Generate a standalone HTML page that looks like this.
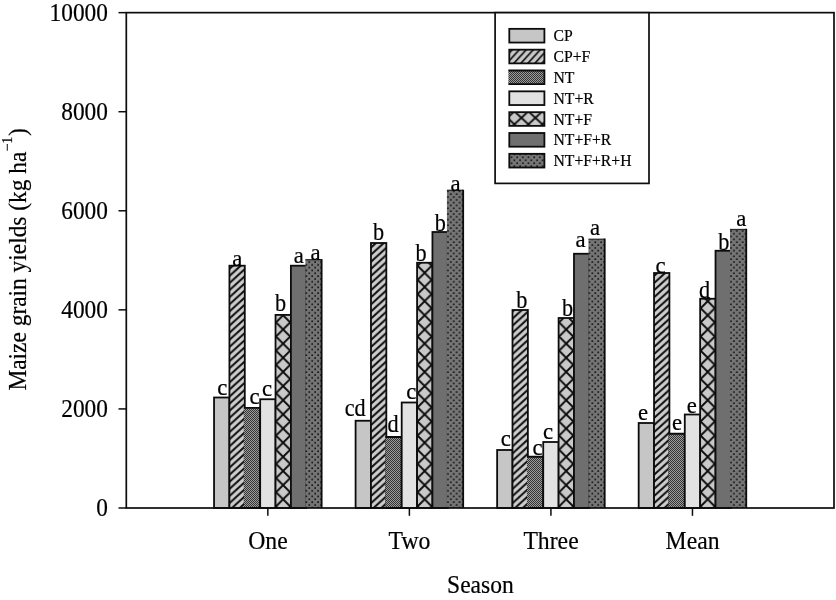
<!DOCTYPE html>
<html lang="en">
<head>
<meta charset="utf-8">
<title>Maize grain yields by season</title>
<style>
html,body{margin:0;padding:0;background:#fff;}
body{width:836px;height:600px;overflow:hidden;}
svg{display:block;}
text{font-family:"Liberation Serif","Times New Roman",serif;fill:#000;stroke:#000;stroke-width:0.2px;}
.tick{font-size:25.2px;}
.cat{font-size:24.4px;}
.lab{font-size:24.4px;}
.leg{font-size:16.9px;stroke-width:0.2px;}
.ttl{font-size:24px;}
</style>
</head>
<body>
<svg width="836" height="600" viewBox="0 0 836 600">
<defs>
<pattern id="hatch0" patternUnits="userSpaceOnUse" width="7.8" height="7.1" patternTransform="translate(3.22 6.20)"><rect width="7.8" height="7.1" fill="#cecece"/><path d="M-7.8,7.1 L7.8,-7.1 M0,7.1 L15.6,-7.1 M-7.8,14.2 L7.8,0 M0,14.2 L15.6,0" stroke="#0c0c0c" stroke-width="2.0" fill="none"/></pattern>
<pattern id="dots0" patternUnits="userSpaceOnUse" width="5.87" height="5.65" patternTransform="translate(0.03 3.85)"><rect width="5.87" height="5.65" fill="#757575"/><rect x="0.3" y="0.3" width="1.6" height="1.6" fill="#0c0c0c"/><rect x="3.23" y="3.12" width="1.6" height="1.6" fill="#0c0c0c"/></pattern>
<pattern id="hatch1" patternUnits="userSpaceOnUse" width="7.8" height="7.1" patternTransform="translate(4.36 6.20)"><rect width="7.8" height="7.1" fill="#cecece"/><path d="M-7.8,7.1 L7.8,-7.1 M0,7.1 L15.6,-7.1 M-7.8,14.2 L7.8,0 M0,14.2 L15.6,0" stroke="#0c0c0c" stroke-width="2.0" fill="none"/></pattern>
<pattern id="dots1" patternUnits="userSpaceOnUse" width="5.87" height="5.65" patternTransform="translate(0.69 3.85)"><rect width="5.87" height="5.65" fill="#757575"/><rect x="0.3" y="0.3" width="1.6" height="1.6" fill="#0c0c0c"/><rect x="3.23" y="3.12" width="1.6" height="1.6" fill="#0c0c0c"/></pattern>
<pattern id="hatch2" patternUnits="userSpaceOnUse" width="7.8" height="7.1" patternTransform="translate(5.50 6.20)"><rect width="7.8" height="7.1" fill="#cecece"/><path d="M-7.8,7.1 L7.8,-7.1 M0,7.1 L15.6,-7.1 M-7.8,14.2 L7.8,0 M0,14.2 L15.6,0" stroke="#0c0c0c" stroke-width="2.0" fill="none"/></pattern>
<pattern id="dots2" patternUnits="userSpaceOnUse" width="5.87" height="5.65" patternTransform="translate(1.35 3.85)"><rect width="5.87" height="5.65" fill="#757575"/><rect x="0.3" y="0.3" width="1.6" height="1.6" fill="#0c0c0c"/><rect x="3.23" y="3.12" width="1.6" height="1.6" fill="#0c0c0c"/></pattern>
<pattern id="hatch3" patternUnits="userSpaceOnUse" width="7.8" height="7.1" patternTransform="translate(6.64 6.20)"><rect width="7.8" height="7.1" fill="#cecece"/><path d="M-7.8,7.1 L7.8,-7.1 M0,7.1 L15.6,-7.1 M-7.8,14.2 L7.8,0 M0,14.2 L15.6,0" stroke="#0c0c0c" stroke-width="2.0" fill="none"/></pattern>
<pattern id="dots3" patternUnits="userSpaceOnUse" width="5.87" height="5.65" patternTransform="translate(2.01 3.85)"><rect width="5.87" height="5.65" fill="#757575"/><rect x="0.3" y="0.3" width="1.6" height="1.6" fill="#0c0c0c"/><rect x="3.23" y="3.12" width="1.6" height="1.6" fill="#0c0c0c"/></pattern>
<pattern id="hatchL" patternUnits="userSpaceOnUse" width="7" height="7.7" patternTransform="translate(3.2 63)">
<rect width="7" height="7.7" fill="#c9c9c9"/>
<path d="M-7,7.7 L7,-7.7 M0,7.7 L14,-7.7 M-7,15.4 L7,0 M0,15.4 L14,0" stroke="#0c0c0c" stroke-width="1.7" fill="none"/>
</pattern>
<pattern id="cross" patternUnits="userSpaceOnUse" width="14.154" height="14.154" patternTransform="translate(0.02 3.91)">
<rect width="14.154" height="14.154" fill="#c9c9c9"/>
<path d="M0,0 L14.154,14.154 M14.154,0 L0,14.154" stroke="#0c0c0c" stroke-width="1.9" fill="none"/>
</pattern>
<pattern id="crossL" patternUnits="userSpaceOnUse" width="14" height="13" patternTransform="translate(3.40 0.80)">
<rect width="14" height="13" fill="#c9c9c9"/>
<path d="M0,0 L14,13 M14,0 L0,13" stroke="#0c0c0c" stroke-width="1.9" fill="none"/>
</pattern>
<pattern id="chk" patternUnits="userSpaceOnUse" width="2" height="2">
<rect width="2" height="2" fill="#9c9c9c"/>
<rect x="0" y="0" width="1" height="1" fill="#343434"/>
<rect x="1" y="1" width="1" height="1" fill="#343434"/>
</pattern>
<pattern id="dotsL" patternUnits="userSpaceOnUse" width="5.65" height="5.92" patternTransform="translate(2.0 2.3)">
<rect width="5.65" height="5.92" fill="#757575"/>
<rect x="0.3" y="0.3" width="1.6" height="1.6" fill="#0c0c0c"/>
<rect x="3.12" y="3.26" width="1.6" height="1.6" fill="#0c0c0c"/>
</pattern>
</defs>
<rect width="836" height="600" fill="#fff"/>

<g>
<rect x="214.05" y="397.50" width="15.37" height="110.50" fill="#c6c6c6" stroke="#0c0c0c" stroke-width="1.8"/>
<rect x="229.42" y="265.70" width="15.37" height="242.30" fill="url(#hatch0)" stroke="#0c0c0c" stroke-width="1.8"/>
<rect x="243.89" y="407.80" width="16.27" height="100.20" fill="url(#chk)"/>
<path d="M243.89,407.80 H260.16 V508.00 H243.89" fill="none" stroke="#0c0c0c" stroke-width="1.8"/>
<rect x="260.16" y="399.25" width="15.37" height="108.75" fill="#e2e2e2" stroke="#0c0c0c" stroke-width="1.8"/>
<rect x="275.53" y="314.90" width="15.37" height="193.10" fill="url(#cross)" stroke="#0c0c0c" stroke-width="1.8"/>
<rect x="290.90" y="265.70" width="15.37" height="242.30" fill="#6f6f6f" stroke="#0c0c0c" stroke-width="1.8"/>
<rect x="305.37" y="259.70" width="16.27" height="248.30" fill="url(#dots0)"/>
<path d="M305.37,259.70 H321.64" fill="none" stroke="#2c2c2c" stroke-width="1.3"/>
<path d="M321.64,259.05 V508.00" fill="none" stroke="#0c0c0c" stroke-width="1.8"/>
</g>
<g>
<rect x="355.59" y="420.75" width="15.37" height="87.25" fill="#c6c6c6" stroke="#0c0c0c" stroke-width="1.8"/>
<rect x="370.96" y="243.00" width="15.37" height="265.00" fill="url(#hatch1)" stroke="#0c0c0c" stroke-width="1.8"/>
<rect x="385.43" y="437.00" width="16.27" height="71.00" fill="url(#chk)"/>
<path d="M385.43,437.00 H401.70 V508.00 H385.43" fill="none" stroke="#0c0c0c" stroke-width="1.8"/>
<rect x="401.70" y="402.50" width="15.37" height="105.50" fill="#e2e2e2" stroke="#0c0c0c" stroke-width="1.8"/>
<rect x="417.07" y="262.75" width="15.37" height="245.25" fill="url(#cross)" stroke="#0c0c0c" stroke-width="1.8"/>
<rect x="432.44" y="232.00" width="15.37" height="276.00" fill="#6f6f6f" stroke="#0c0c0c" stroke-width="1.8"/>
<rect x="446.91" y="190.30" width="16.27" height="317.70" fill="url(#dots1)"/>
<path d="M446.91,190.30 H463.18" fill="none" stroke="#2c2c2c" stroke-width="1.3"/>
<path d="M463.18,189.65 V508.00" fill="none" stroke="#0c0c0c" stroke-width="1.8"/>
</g>
<g>
<rect x="497.13" y="450.00" width="15.37" height="58.00" fill="#c6c6c6" stroke="#0c0c0c" stroke-width="1.8"/>
<rect x="512.50" y="310.00" width="15.37" height="198.00" fill="url(#hatch2)" stroke="#0c0c0c" stroke-width="1.8"/>
<rect x="526.97" y="456.75" width="16.27" height="51.25" fill="url(#chk)"/>
<path d="M526.97,456.75 H543.24 V508.00 H526.97" fill="none" stroke="#0c0c0c" stroke-width="1.8"/>
<rect x="543.24" y="442.00" width="15.37" height="66.00" fill="#e2e2e2" stroke="#0c0c0c" stroke-width="1.8"/>
<rect x="558.61" y="318.00" width="15.37" height="190.00" fill="url(#cross)" stroke="#0c0c0c" stroke-width="1.8"/>
<rect x="573.98" y="253.75" width="15.37" height="254.25" fill="#6f6f6f" stroke="#0c0c0c" stroke-width="1.8"/>
<rect x="588.45" y="239.25" width="16.27" height="268.75" fill="url(#dots2)"/>
<path d="M588.45,239.25 H604.72" fill="none" stroke="#2c2c2c" stroke-width="1.3"/>
<path d="M604.72,238.60 V508.00" fill="none" stroke="#0c0c0c" stroke-width="1.8"/>
</g>
<g>
<rect x="638.67" y="423.00" width="15.37" height="85.00" fill="#c6c6c6" stroke="#0c0c0c" stroke-width="1.8"/>
<rect x="654.04" y="273.00" width="15.37" height="235.00" fill="url(#hatch3)" stroke="#0c0c0c" stroke-width="1.8"/>
<rect x="668.51" y="433.75" width="16.27" height="74.25" fill="url(#chk)"/>
<path d="M668.51,433.75 H684.78 V508.00 H668.51" fill="none" stroke="#0c0c0c" stroke-width="1.8"/>
<rect x="684.78" y="414.50" width="15.37" height="93.50" fill="#e2e2e2" stroke="#0c0c0c" stroke-width="1.8"/>
<rect x="700.15" y="298.75" width="15.37" height="209.25" fill="url(#cross)" stroke="#0c0c0c" stroke-width="1.8"/>
<rect x="715.52" y="250.75" width="15.37" height="257.25" fill="#6f6f6f" stroke="#0c0c0c" stroke-width="1.8"/>
<rect x="729.99" y="229.50" width="16.27" height="278.50" fill="url(#dots3)"/>
<path d="M729.99,229.50 H746.26" fill="none" stroke="#2c2c2c" stroke-width="1.3"/>
<path d="M746.26,228.85 V508.00" fill="none" stroke="#0c0c0c" stroke-width="1.8"/>
</g>
<rect x="126.3" y="12.65" width="707.70" height="495.35" fill="none" stroke="#0c0c0c" stroke-width="1.7"/>
<line x1="118.5" y1="508.00" x2="126.3" y2="508.00" stroke="#0c0c0c" stroke-width="1.5"/>
<text class="tick" transform="translate(107.9 516.30) scale(0.926 1)" text-anchor="end">0</text>
<line x1="118.5" y1="408.93" x2="126.3" y2="408.93" stroke="#0c0c0c" stroke-width="1.5"/>
<text class="tick" transform="translate(107.9 417.23) scale(0.926 1)" text-anchor="end">2000</text>
<line x1="118.5" y1="309.86" x2="126.3" y2="309.86" stroke="#0c0c0c" stroke-width="1.5"/>
<text class="tick" transform="translate(107.9 318.16) scale(0.926 1)" text-anchor="end">4000</text>
<line x1="118.5" y1="210.79" x2="126.3" y2="210.79" stroke="#0c0c0c" stroke-width="1.5"/>
<text class="tick" transform="translate(107.9 219.09) scale(0.926 1)" text-anchor="end">6000</text>
<line x1="118.5" y1="111.72" x2="126.3" y2="111.72" stroke="#0c0c0c" stroke-width="1.5"/>
<text class="tick" transform="translate(107.9 120.02) scale(0.926 1)" text-anchor="end">8000</text>
<line x1="118.5" y1="12.65" x2="126.3" y2="12.65" stroke="#0c0c0c" stroke-width="1.5"/>
<text class="tick" transform="translate(107.9 20.95) scale(0.926 1)" text-anchor="end">10000</text>
<line x1="267.84" y1="508.0" x2="267.84" y2="515.8" stroke="#0c0c0c" stroke-width="1.5"/>
<text class="cat" transform="translate(267.94 549.3) scale(0.972 1)" text-anchor="middle">One</text>
<line x1="409.38" y1="508.0" x2="409.38" y2="515.8" stroke="#0c0c0c" stroke-width="1.5"/>
<text class="cat" transform="translate(409.48 549.3) scale(0.972 1)" text-anchor="middle">Two</text>
<line x1="550.92" y1="508.0" x2="550.92" y2="515.8" stroke="#0c0c0c" stroke-width="1.5"/>
<text class="cat" transform="translate(551.02 549.3) scale(0.972 1)" text-anchor="middle">Three</text>
<line x1="692.46" y1="508.0" x2="692.46" y2="515.8" stroke="#0c0c0c" stroke-width="1.5"/>
<text class="cat" transform="translate(692.56 549.3) scale(0.972 1)" text-anchor="middle">Mean</text>
<text class="lab" transform="translate(222.25 394.65) scale(0.99 1)" text-anchor="middle" style="font-size:23.0px">c</text>
<text class="lab" transform="translate(237.3 265.5) scale(0.99 1)" text-anchor="middle" style="font-size:23.0px">a</text>
<text class="lab" transform="translate(254.5 404.15) scale(0.99 1)" text-anchor="middle" style="font-size:23.0px">c</text>
<text class="lab" transform="translate(267 396.15) scale(0.99 1)" text-anchor="middle" style="font-size:23.0px">c</text>
<text class="lab" transform="translate(280.5 310.7) scale(0.89 1)" text-anchor="middle" style="font-size:25.0px">b</text>
<text class="lab" transform="translate(298.9 263.45) scale(0.99 1)" text-anchor="middle" style="font-size:23.0px">a</text>
<text class="lab" transform="translate(315.5 260.4) scale(0.99 1)" text-anchor="middle" style="font-size:23.0px">a</text>
<text class="lab" transform="translate(355.1 415.75) scale(0.91 1)" text-anchor="middle" style="font-size:24.4px">cd</text>
<text class="lab" transform="translate(378.6 240.2) scale(0.89 1)" text-anchor="middle" style="font-size:25.0px">b</text>
<text class="lab" transform="translate(393.1 431.75) scale(0.89 1)" text-anchor="middle" style="font-size:25.0px">d</text>
<text class="lab" transform="translate(411.25 398.75) scale(0.99 1)" text-anchor="middle" style="font-size:23.0px">c</text>
<text class="lab" transform="translate(421.1 261.25) scale(0.89 1)" text-anchor="middle" style="font-size:25.0px">b</text>
<text class="lab" transform="translate(440.4 230.65) scale(0.89 1)" text-anchor="middle" style="font-size:25.0px">b</text>
<text class="lab" transform="translate(455.6 190.85) scale(0.99 1)" text-anchor="middle" style="font-size:23.0px">a</text>
<text class="lab" transform="translate(505.75 445.5) scale(0.99 1)" text-anchor="middle" style="font-size:23.0px">c</text>
<text class="lab" transform="translate(521.75 308.3) scale(0.89 1)" text-anchor="middle" style="font-size:25.0px">b</text>
<text class="lab" transform="translate(537.5 455.3) scale(0.99 1)" text-anchor="middle" style="font-size:23.0px">c</text>
<text class="lab" transform="translate(548 438.75) scale(0.99 1)" text-anchor="middle" style="font-size:23.0px">c</text>
<text class="lab" transform="translate(567.5 316.45) scale(0.89 1)" text-anchor="middle" style="font-size:25.0px">b</text>
<text class="lab" transform="translate(580.5 247.25) scale(0.99 1)" text-anchor="middle" style="font-size:23.0px">a</text>
<text class="lab" transform="translate(595 234.65) scale(0.99 1)" text-anchor="middle" style="font-size:23.0px">a</text>
<text class="lab" transform="translate(643.1 420.05) scale(0.99 1)" text-anchor="middle" style="font-size:23.0px">e</text>
<text class="lab" transform="translate(660.5 272.55) scale(0.99 1)" text-anchor="middle" style="font-size:23.0px">c</text>
<text class="lab" transform="translate(677 429.5) scale(0.99 1)" text-anchor="middle" style="font-size:23.0px">e</text>
<text class="lab" transform="translate(691.75 412.95) scale(0.99 1)" text-anchor="middle" style="font-size:23.0px">e</text>
<text class="lab" transform="translate(704.5 297.5) scale(0.89 1)" text-anchor="middle" style="font-size:25.0px">d</text>
<text class="lab" transform="translate(723.75 250.35) scale(0.89 1)" text-anchor="middle" style="font-size:25.0px">b</text>
<text class="lab" transform="translate(741.25 225.7) scale(0.99 1)" text-anchor="middle" style="font-size:23.0px">a</text>
<text class="ttl" transform="translate(480.4 593.2) scale(0.95 1)" text-anchor="middle" style="font-size:24.8px">Season</text>
<text class="ttl" transform="translate(26 390.6) rotate(-90) scale(0.951 1)" text-anchor="start" style="font-size:24.6px">Maize grain yields (kg ha<tspan dy="-13.6" font-size="14.8">−1</tspan><tspan dx="0.6" dy="13.6">)</tspan></text>
<rect x="495.1" y="12.65" width="153.90" height="170.75" fill="#fff" stroke="#0c0c0c" stroke-width="1.7"/>
<rect x="509.30" y="28.85" width="35.10" height="13.70" fill="#c6c6c6" stroke="#0c0c0c" stroke-width="1.8"/>
<text class="leg" transform="translate(553.5 41.25) scale(0.93 1)">CP</text>
<rect x="509.30" y="49.68" width="35.10" height="13.70" fill="url(#hatchL)" stroke="#0c0c0c" stroke-width="1.8"/>
<text class="leg" transform="translate(553.5 62.08) scale(0.93 1)">CP+F</text>
<rect x="508.40" y="70.51" width="36.00" height="13.70" fill="url(#chk)"/>
<path d="M508.40,70.51 H544.40 V84.21 H508.40" fill="none" stroke="#0c0c0c" stroke-width="1.8"/>
<text class="leg" transform="translate(553.5 82.91) scale(0.93 1)">NT</text>
<rect x="509.30" y="91.34" width="35.10" height="13.70" fill="#e2e2e2" stroke="#0c0c0c" stroke-width="1.8"/>
<text class="leg" transform="translate(553.5 103.74) scale(0.93 1)">NT+R</text>
<rect x="509.30" y="112.17" width="35.10" height="13.70" fill="url(#crossL)" stroke="#0c0c0c" stroke-width="1.8"/>
<text class="leg" transform="translate(553.5 124.57) scale(0.93 1)">NT+F</text>
<rect x="509.30" y="133.00" width="35.10" height="13.70" fill="#6f6f6f" stroke="#0c0c0c" stroke-width="1.8"/>
<text class="leg" transform="translate(553.5 145.40) scale(0.93 1)">NT+F+R</text>
<rect x="509.30" y="153.83" width="35.10" height="13.70" fill="url(#dotsL)" stroke="#0c0c0c" stroke-width="1.8"/>
<text class="leg" transform="translate(553.5 166.23) scale(0.93 1)">NT+F+R+H</text>
</svg>
</body>
</html>
